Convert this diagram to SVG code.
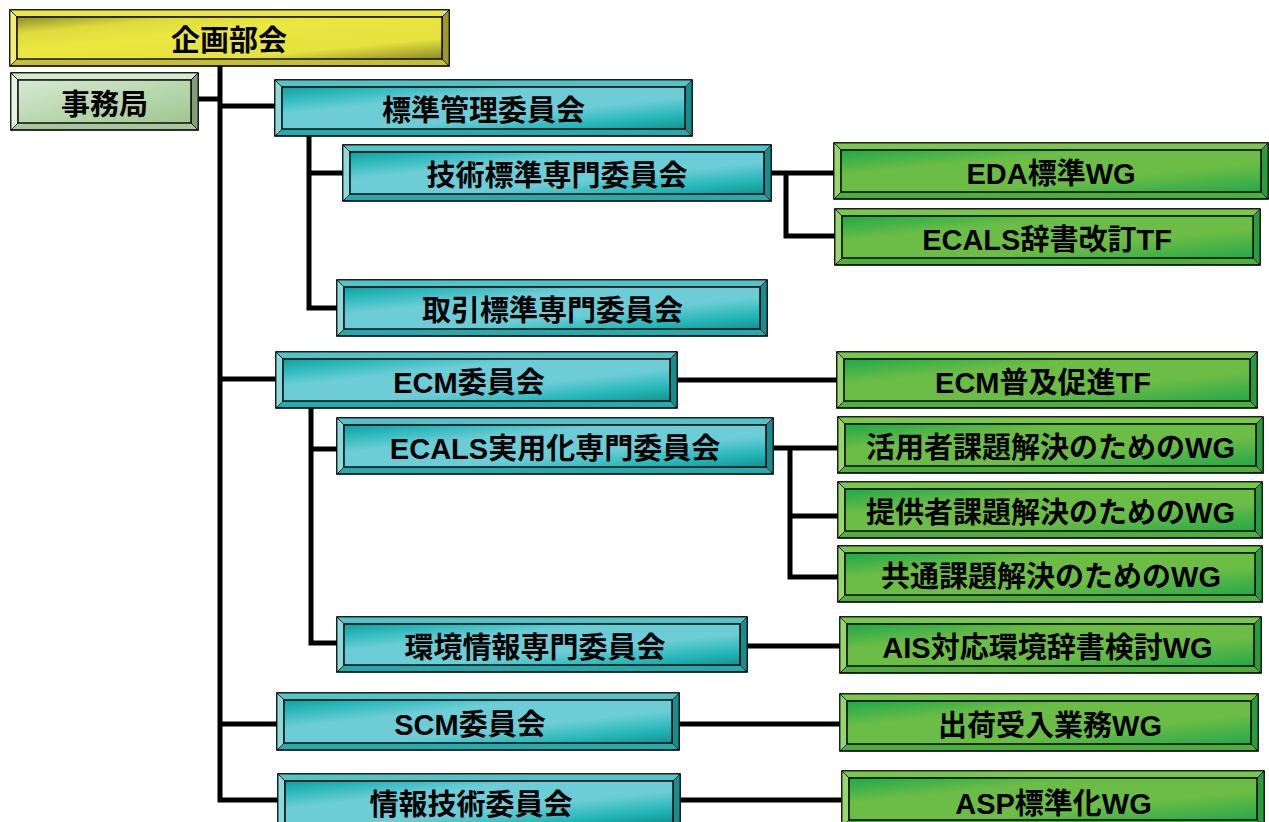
<svg xmlns="http://www.w3.org/2000/svg" width="1269" height="822" viewBox="0 0 1269 822">
<defs>
<linearGradient id="gT" x1="0" y1="0" x2="1" y2="1"><stop offset="0" stop-color="#139e9e"/><stop offset="0.14" stop-color="#2db9bc"/><stop offset="0.32" stop-color="#6ccdd6"/><stop offset="0.62" stop-color="#6ccdd6"/><stop offset="0.84" stop-color="#22b6b7"/><stop offset="1" stop-color="#168f90"/></linearGradient>
<linearGradient id="gG" x1="0" y1="0" x2="1" y2="1"><stop offset="0" stop-color="#1fa84a"/><stop offset="0.3" stop-color="#6cbd45"/><stop offset="0.65" stop-color="#6cbd45"/><stop offset="1" stop-color="#25a84a"/></linearGradient>
<linearGradient id="gY" x1="0" y1="0" x2="1" y2="1"><stop offset="0" stop-color="#8c8b2c"/><stop offset="0.2" stop-color="#dedb3e"/><stop offset="0.4" stop-color="#ebe73f"/><stop offset="0.75" stop-color="#e6e23e"/><stop offset="1" stop-color="#8a8a2a"/></linearGradient>
<linearGradient id="gP" x1="0" y1="0" x2="1" y2="1"><stop offset="0" stop-color="#d6ead2"/><stop offset="1" stop-color="#9ec78e"/></linearGradient>
</defs>
<style>
.o{stroke:#000;stroke-width:1.6}
.b{stroke:#000;stroke-width:0.8}
.f{stroke:#000;stroke-width:1.4}
.teal .o{fill:#27aaab}.teal .t{fill:#52c4c8}.teal .l{fill:#8cdadc}.teal .r{fill:#1b8c8e}.teal .f{fill:url(#gT)}
.grn .o{fill:#4fae3f}.grn .t{fill:#7ac74e}.grn .l{fill:#98d56e}.grn .r{fill:#2c9a3e}.grn .f{fill:url(#gG)}
.yel .o{fill:#c7bf33}.yel .t{fill:#ece54a}.yel .l{fill:#f3ee78}.yel .r{fill:#9c9730}.yel .f{fill:url(#gY)}
.pal .o{fill:#a9c79e}.pal .t{fill:#d6ead2}.pal .l{fill:#e6f3e2}.pal .r{fill:#809c78}.pal .f{fill:url(#gP)}
text{font-family:"Liberation Sans","Noto Sans CJK JP",sans-serif;font-weight:bold;font-size:29px;fill:#000;text-anchor:middle}
#connectors path{fill:none;stroke:#000;stroke-width:5;stroke-linejoin:miter;stroke-linecap:butt}
</style>
<g id="connectors">
<path d="M220 66 V800 H278"/>
<path d="M198 99 H220"/>
<path d="M220 106 H275"/>
<path d="M309 136 V308 H337"/>
<path d="M309 173 H343"/>
<path d="M771 173 H834"/>
<path d="M786 173 V236 H835"/>
<path d="M220 379 H276"/>
<path d="M677 380 H837"/>
<path d="M311 408 V643 H337"/>
<path d="M311 449 H337"/>
<path d="M773 448 H838"/>
<path d="M790 448 V577 H838"/>
<path d="M790 516 H838"/>
<path d="M747 646 H840"/>
<path d="M220 724 H277"/>
<path d="M679 724 H840"/>
<path d="M680 800 H842"/>
</g>
<g id="n1" class="yel"><rect class="o" x="10" y="10" width="439" height="56"/><path class="b t" d="M10 10 H449 L442 17 H17 Z"/><path class="b l" d="M10 10 L17 17 V59 L10 66 Z"/><path class="b r" d="M449 10 V66 L442 59 V17 Z"/><rect class="f" x="17" y="17" width="425" height="42"/><text x="229" y="51">企画部会</text></g>
<g id="n2" class="pal"><rect class="o" x="11" y="73" width="187" height="57"/><path class="b t" d="M11 73 H198 L191 80 H18 Z"/><path class="b l" d="M11 73 L18 80 V123 L11 130 Z"/><path class="b r" d="M198 73 V130 L191 123 V80 Z"/><rect class="f" x="18" y="80" width="173" height="43"/><text x="104.5" y="114.5">事務局</text></g>
<g id="n3" class="teal"><rect class="o" x="275" y="80" width="417" height="56"/><path class="b t" d="M275 80 H692 L685 87 H282 Z"/><path class="b l" d="M275 80 L282 87 V129 L275 136 Z"/><path class="b r" d="M692 80 V136 L685 129 V87 Z"/><rect class="f" x="282" y="87" width="403" height="42"/><text x="483.5" y="121">標準管理委員会</text></g>
<g id="n4" class="teal"><rect class="o" x="343" y="145" width="428" height="56"/><path class="b t" d="M343 145 H771 L764 152 H350 Z"/><path class="b l" d="M343 145 L350 152 V194 L343 201 Z"/><path class="b r" d="M771 145 V201 L764 194 V152 Z"/><rect class="f" x="350" y="152" width="414" height="42"/><text x="557" y="186">技術標準専門委員会</text></g>
<g id="n5" class="grn"><rect class="o" x="834" y="143" width="434" height="56"/><path class="b t" d="M834 143 H1268 L1261 150 H841 Z"/><path class="b l" d="M834 143 L841 150 V192 L834 199 Z"/><path class="b r" d="M1268 143 V199 L1261 192 V150 Z"/><rect class="f" x="841" y="150" width="420" height="42"/><text x="1051" y="184">EDA標準WG</text></g>
<g id="n6" class="grn"><rect class="o" x="835" y="209" width="425" height="56"/><path class="b t" d="M835 209 H1260 L1253 216 H842 Z"/><path class="b l" d="M835 209 L842 216 V258 L835 265 Z"/><path class="b r" d="M1260 209 V265 L1253 258 V216 Z"/><rect class="f" x="842" y="216" width="411" height="42"/><text x="1047" y="250">ECALS辞書改訂TF</text></g>
<g id="n7" class="teal"><rect class="o" x="337" y="280" width="430" height="56"/><path class="b t" d="M337 280 H767 L760 287 H344 Z"/><path class="b l" d="M337 280 L344 287 V329 L337 336 Z"/><path class="b r" d="M767 280 V336 L760 329 V287 Z"/><rect class="f" x="344" y="287" width="416" height="42"/><text x="552.5" y="321">取引標準専門委員会</text></g>
<g id="n8" class="teal"><rect class="o" x="276" y="352" width="401" height="56"/><path class="b t" d="M276 352 H677 L670 359 H283 Z"/><path class="b l" d="M276 352 L283 359 V401 L276 408 Z"/><path class="b r" d="M677 352 V408 L670 401 V359 Z"/><rect class="f" x="283" y="359" width="387" height="42"/><text x="469" y="393">ECM委員会</text></g>
<g id="n9" class="grn"><rect class="o" x="837" y="352" width="420" height="56"/><path class="b t" d="M837 352 H1257 L1250 359 H844 Z"/><path class="b l" d="M837 352 L844 359 V401 L837 408 Z"/><path class="b r" d="M1257 352 V408 L1250 401 V359 Z"/><rect class="f" x="844" y="359" width="406" height="42"/><text x="1043" y="393">ECM普及促進TF</text></g>
<g id="n10" class="teal"><rect class="o" x="337" y="418" width="436" height="56"/><path class="b t" d="M337 418 H773 L766 425 H344 Z"/><path class="b l" d="M337 418 L344 425 V467 L337 474 Z"/><path class="b r" d="M773 418 V474 L766 467 V425 Z"/><rect class="f" x="344" y="425" width="422" height="42"/><text x="555" y="459">ECALS実用化専門委員会</text></g>
<g id="n11" class="grn"><rect class="o" x="838" y="417" width="425" height="56"/><path class="b t" d="M838 417 H1263 L1256 424 H845 Z"/><path class="b l" d="M838 417 L845 424 V466 L838 473 Z"/><path class="b r" d="M1263 417 V473 L1256 466 V424 Z"/><rect class="f" x="845" y="424" width="411" height="42"/><text x="1050.5" y="458">活用者課題解決のためのWG</text></g>
<g id="n12" class="grn"><rect class="o" x="838" y="482" width="424" height="56"/><path class="b t" d="M838 482 H1262 L1255 489 H845 Z"/><path class="b l" d="M838 482 L845 489 V531 L838 538 Z"/><path class="b r" d="M1262 482 V538 L1255 531 V489 Z"/><rect class="f" x="845" y="489" width="410" height="42"/><text x="1050.5" y="523">提供者課題解決のためのWG</text></g>
<g id="n13" class="grn"><rect class="o" x="838" y="546" width="424" height="56"/><path class="b t" d="M838 546 H1262 L1255 553 H845 Z"/><path class="b l" d="M838 546 L845 553 V595 L838 602 Z"/><path class="b r" d="M1262 546 V602 L1255 595 V553 Z"/><rect class="f" x="845" y="553" width="410" height="42"/><text x="1051" y="587">共通課題解決のためのWG</text></g>
<g id="n14" class="teal"><rect class="o" x="337" y="617" width="410" height="55"/><path class="b t" d="M337 617 H747 L740 624 H344 Z"/><path class="b l" d="M337 617 L344 624 V665 L337 672 Z"/><path class="b r" d="M747 617 V672 L740 665 V624 Z"/><rect class="f" x="344" y="624" width="396" height="41"/><text x="535" y="657.5">環境情報専門委員会</text></g>
<g id="n15" class="grn"><rect class="o" x="840" y="617" width="421" height="56"/><path class="b t" d="M840 617 H1261 L1254 624 H847 Z"/><path class="b l" d="M840 617 L847 624 V666 L840 673 Z"/><path class="b r" d="M1261 617 V673 L1254 666 V624 Z"/><rect class="f" x="847" y="624" width="407" height="42"/><text x="1047.5" y="658">AIS対応環境辞書検討WG</text></g>
<g id="n16" class="teal"><rect class="o" x="277" y="693" width="402" height="57"/><path class="b t" d="M277 693 H679 L672 700 H284 Z"/><path class="b l" d="M277 693 L284 700 V743 L277 750 Z"/><path class="b r" d="M679 693 V750 L672 743 V700 Z"/><rect class="f" x="284" y="700" width="388" height="43"/><text x="470" y="734.5">SCM委員会</text></g>
<g id="n17" class="grn"><rect class="o" x="840" y="694" width="418" height="57"/><path class="b t" d="M840 694 H1258 L1251 701 H847 Z"/><path class="b l" d="M840 694 L847 701 V744 L840 751 Z"/><path class="b r" d="M1258 694 V751 L1251 744 V701 Z"/><rect class="f" x="847" y="701" width="404" height="43"/><text x="1050" y="735.5">出荷受入業務WG</text></g>
<g id="n18" class="teal"><rect class="o" x="278" y="774" width="402" height="56"/><path class="b t" d="M278 774 H680 L673 781 H285 Z"/><path class="b l" d="M278 774 L285 781 V823 L278 830 Z"/><path class="b r" d="M680 774 V830 L673 823 V781 Z"/><rect class="f" x="285" y="781" width="388" height="42"/><text x="471" y="815">情報技術委員会</text></g>
<g id="n19" class="grn"><rect class="o" x="842" y="771" width="422" height="56"/><path class="b t" d="M842 771 H1264 L1257 778 H849 Z"/><path class="b l" d="M842 771 L849 778 V820 L842 827 Z"/><path class="b r" d="M1264 771 V827 L1257 820 V778 Z"/><rect class="f" x="849" y="778" width="408" height="42"/><text x="1053.5" y="814">ASP標準化WG</text></g>
</svg>
